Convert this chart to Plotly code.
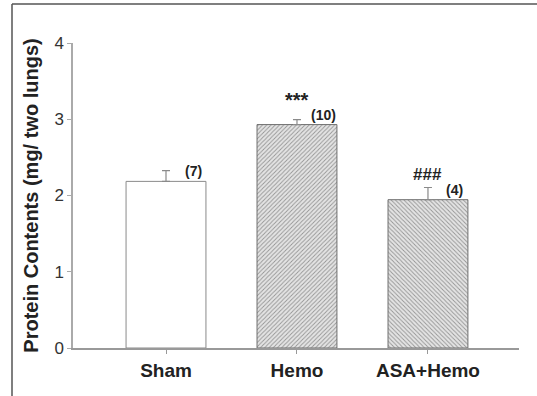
import plotly.graph_objects as go

categories = ["Sham", "Hemo", "ASA+Hemo"]
means = [2.185, 2.93, 1.945]
sems = [0.14, 0.065, 0.16]
n_labels = ["(7)", "(10)", "(4)"]
sig_labels = ["", "***", "###"]
y_ticks = [0, 1, 2, 3, 4]

FONT = "Liberation Sans, Arial, sans-serif"

fig = go.Figure()
fig.add_trace(go.Bar(
    x=[0, 1, 2], y=means, width=0.61,
    marker=dict(
        color=["white", "#e4e4e4", "#e4e4e4"],
        line=dict(color=["#8a8a8a", "#6e6e6e", "#6e6e6e"], width=1),
        pattern=dict(shape=["", "/", "\\"], fgcolor="#a8a8a8", bgcolor="#e4e4e4",
                     size=3, solidity=0.3, fillmode="overlay"),
    ),
    error_y=dict(type="data", symmetric=False, array=sems, arrayminus=[0, 0, 0],
                 color="#8a8a8a", thickness=1.2, width=4),
    showlegend=False,
    hoverinfo="skip",
))

for i, c in enumerate(categories):
    fig.add_annotation(x=i, y=means[i], xref="x", yref="y",
                       text=f"<b>{n_labels[i]}</b>", showarrow=False,
                       xshift=27, yshift=10, font=dict(family=FONT, size=14, color="#222"))
    if sig_labels[i]:
        fig.add_annotation(x=i, y=means[i], xref="x", yref="y",
                           text=f"<b>{sig_labels[i]}</b>", showarrow=False,
                           yshift=25, font=dict(family=FONT, size=20 if sig_labels[i] == "***" else 17,
                                                color="#222"))

# outer frame: only left and top edges fall inside the picture
fig.add_shape(type="line", xref="paper", yref="paper",
              x0=(12 - 73) / 446, x1=(12 - 73) / 446, y0=-0.5, y1=(348 - 4) / 305,
              line=dict(color="#555", width=1.5))
fig.add_shape(type="line", xref="paper", yref="paper",
              x0=(12 - 73) / 446, x1=(700 - 73) / 446, y0=(348 - 4) / 305, y1=(348 - 4) / 305,
              line=dict(color="#555", width=1.5))

fig.update_layout(
    width=537, height=396,
    margin=dict(l=73, r=18, t=43, b=48),
    plot_bgcolor="white", paper_bgcolor="white",
    font=dict(family=FONT, color="#222"),
    xaxis=dict(range=[-0.71, 2.695], showline=True, linecolor="#999", linewidth=2,
               ticks="outside", ticklen=4, tickcolor="#999",
               tickfont=dict(family=FONT, size=19, color="#222"),
               tickvals=[0, 1, 2], ticktext=[f"<b>{c}</b>" for c in categories],
               showgrid=False, zeroline=False),
    yaxis=dict(range=[0, 4], tickvals=y_ticks, showline=True, linecolor="#aaa", linewidth=1.5,
               ticks="outside", ticklen=4, tickcolor="#aaa",
               tickfont=dict(family=FONT, size=17, color="#333"),
               showgrid=False, zeroline=False,
               title=dict(text="<b>Protein Contents (mg/ two lungs)</b>",
                          font=dict(family=FONT, size=20, color="#222"), standoff=10)),
)

fig.write_html("out.html", config={"displayModeBar": False},
               post_script="document.body.style.margin='0';document.body.style.overflow='hidden';")
